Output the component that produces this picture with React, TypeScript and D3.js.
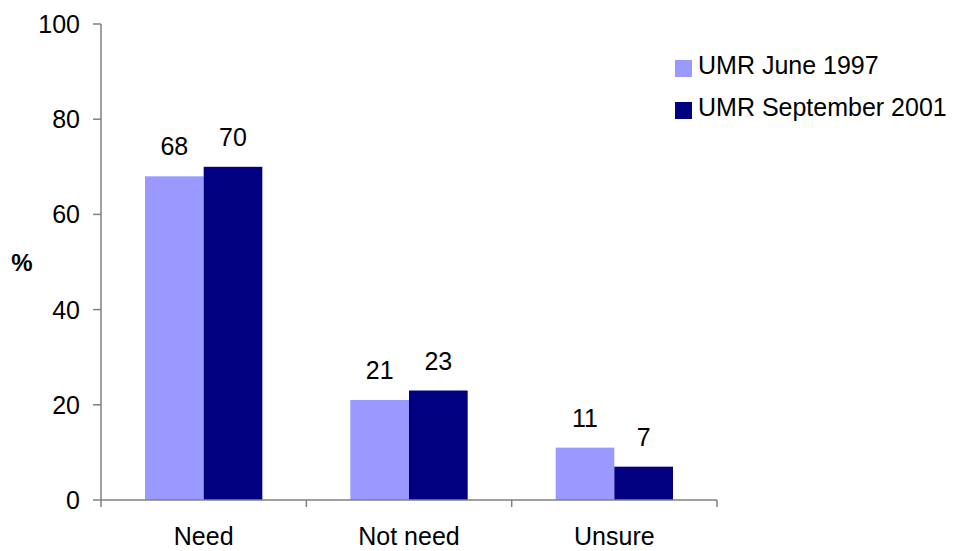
import { useRef, useEffect } from 'react'
import * as d3 from 'd3'

const categories = ['Need', 'Not need', 'Unsure']
const seriesNames = ['UMR June 1997', 'UMR September 2001']
const june1997 = [68, 21, 11]
const sept2001 = [70, 23, 7]
const yTicks = [0, 20, 40, 60, 80, 100]

const COLORS = ['#9999ff', '#000080']
const FONT = '"Liberation Sans", Arial, sans-serif'
const FS = '25px'

export default function App() {
  const svgRef = useRef<SVGSVGElement>(null)

  useEffect(() => {
    if (!svgRef.current) return
    const svg = d3.select(svgRef.current)
    svg.selectAll('*').remove()

    const width = 956
    const height = 551
    svg.attr('width', width).attr('height', height)

    const left = 101
    const right = 717
    const top = 24
    const bottom = 500

    const x = d3.scaleBand<string>().domain(categories).range([left, right]).padding(0)
    const y = d3.scaleLinear().domain([0, 100]).range([bottom, top])

    // gap width 150% => each bar = band / 3.5
    const bw = x.bandwidth() / 3.5
    const gap = bw * 0.75

    const series = [june1997, sept2001]
    const rows = categories.map((c, i) => ({ cat: c, values: series.map((s) => s[i]) }))

    const g = svg.append('g')

    rows.forEach((r) => {
      r.values.forEach((v, si) => {
        const bx = (x(r.cat) ?? 0) + gap + si * bw
        g.append('rect')
          .attr('x', bx)
          .attr('y', y(v))
          .attr('width', bw)
          .attr('height', y(0) - y(v))
          .attr('fill', COLORS[si])

        g.append('text')
          .attr('x', bx + bw / 2)
          .attr('y', y(v) - 21)
          .attr('text-anchor', 'middle')
          .attr('font-family', FONT)
          .attr('font-size', FS)
          .attr('fill', '#000')
          .text(v)
      })
    })

    const axisColor = '#808080'

    // y axis
    g.append('line')
      .attr('x1', left).attr('x2', left)
      .attr('y1', top).attr('y2', bottom)
      .attr('stroke', axisColor).attr('stroke-width', 1.5)

    yTicks.forEach((t) => {
      g.append('line')
        .attr('x1', left - 8).attr('x2', left)
        .attr('y1', y(t)).attr('y2', y(t))
        .attr('stroke', axisColor).attr('stroke-width', 1.5)
      g.append('text')
        .attr('x', 80)
        .attr('y', y(t) + 9)
        .attr('text-anchor', 'end')
        .attr('font-family', FONT)
        .attr('font-size', FS)
        .attr('fill', '#000')
        .text(t)
    })

    // x axis
    g.append('line')
      .attr('x1', left).attr('x2', right)
      .attr('y1', bottom).attr('y2', bottom)
      .attr('stroke', axisColor).attr('stroke-width', 1.5)

    const edges = [...categories.map((c) => x(c) ?? 0), right]
    edges.forEach((ex) => {
      g.append('line')
        .attr('x1', ex).attr('x2', ex)
        .attr('y1', bottom).attr('y2', bottom + 7)
        .attr('stroke', axisColor).attr('stroke-width', 1.5)
    })

    categories.forEach((c) => {
      g.append('text')
        .attr('x', (x(c) ?? 0) + x.bandwidth() / 2)
        .attr('y', 545)
        .attr('text-anchor', 'middle')
        .attr('font-family', FONT)
        .attr('font-size', FS)
        .attr('fill', '#000')
        .text(c)
    })

    // y title
    g.append('text')
      .attr('x', 22)
      .attr('y', 271)
      .attr('text-anchor', 'middle')
      .attr('font-family', FONT)
      .attr('font-size', '24px')
      .attr('font-weight', 'bold')
      .attr('fill', '#000')
      .text('%')

    // legend
    seriesNames.forEach((name, i) => {
      const ly = 60 + i * 42
      g.append('rect')
        .attr('x', 675)
        .attr('y', ly)
        .attr('width', 17)
        .attr('height', 17)
        .attr('fill', COLORS[i])
      g.append('text')
        .attr('x', 698)
        .attr('y', ly + 14)
        .attr('font-family', FONT)
        .attr('font-size', FS)
        .attr('fill', '#000')
        .text(name)
    })
  }, [])

  return (
    <svg
      ref={svgRef}
      style={{ position: 'absolute', left: 0, top: 0, background: '#fff' }}
    />
  )
}
